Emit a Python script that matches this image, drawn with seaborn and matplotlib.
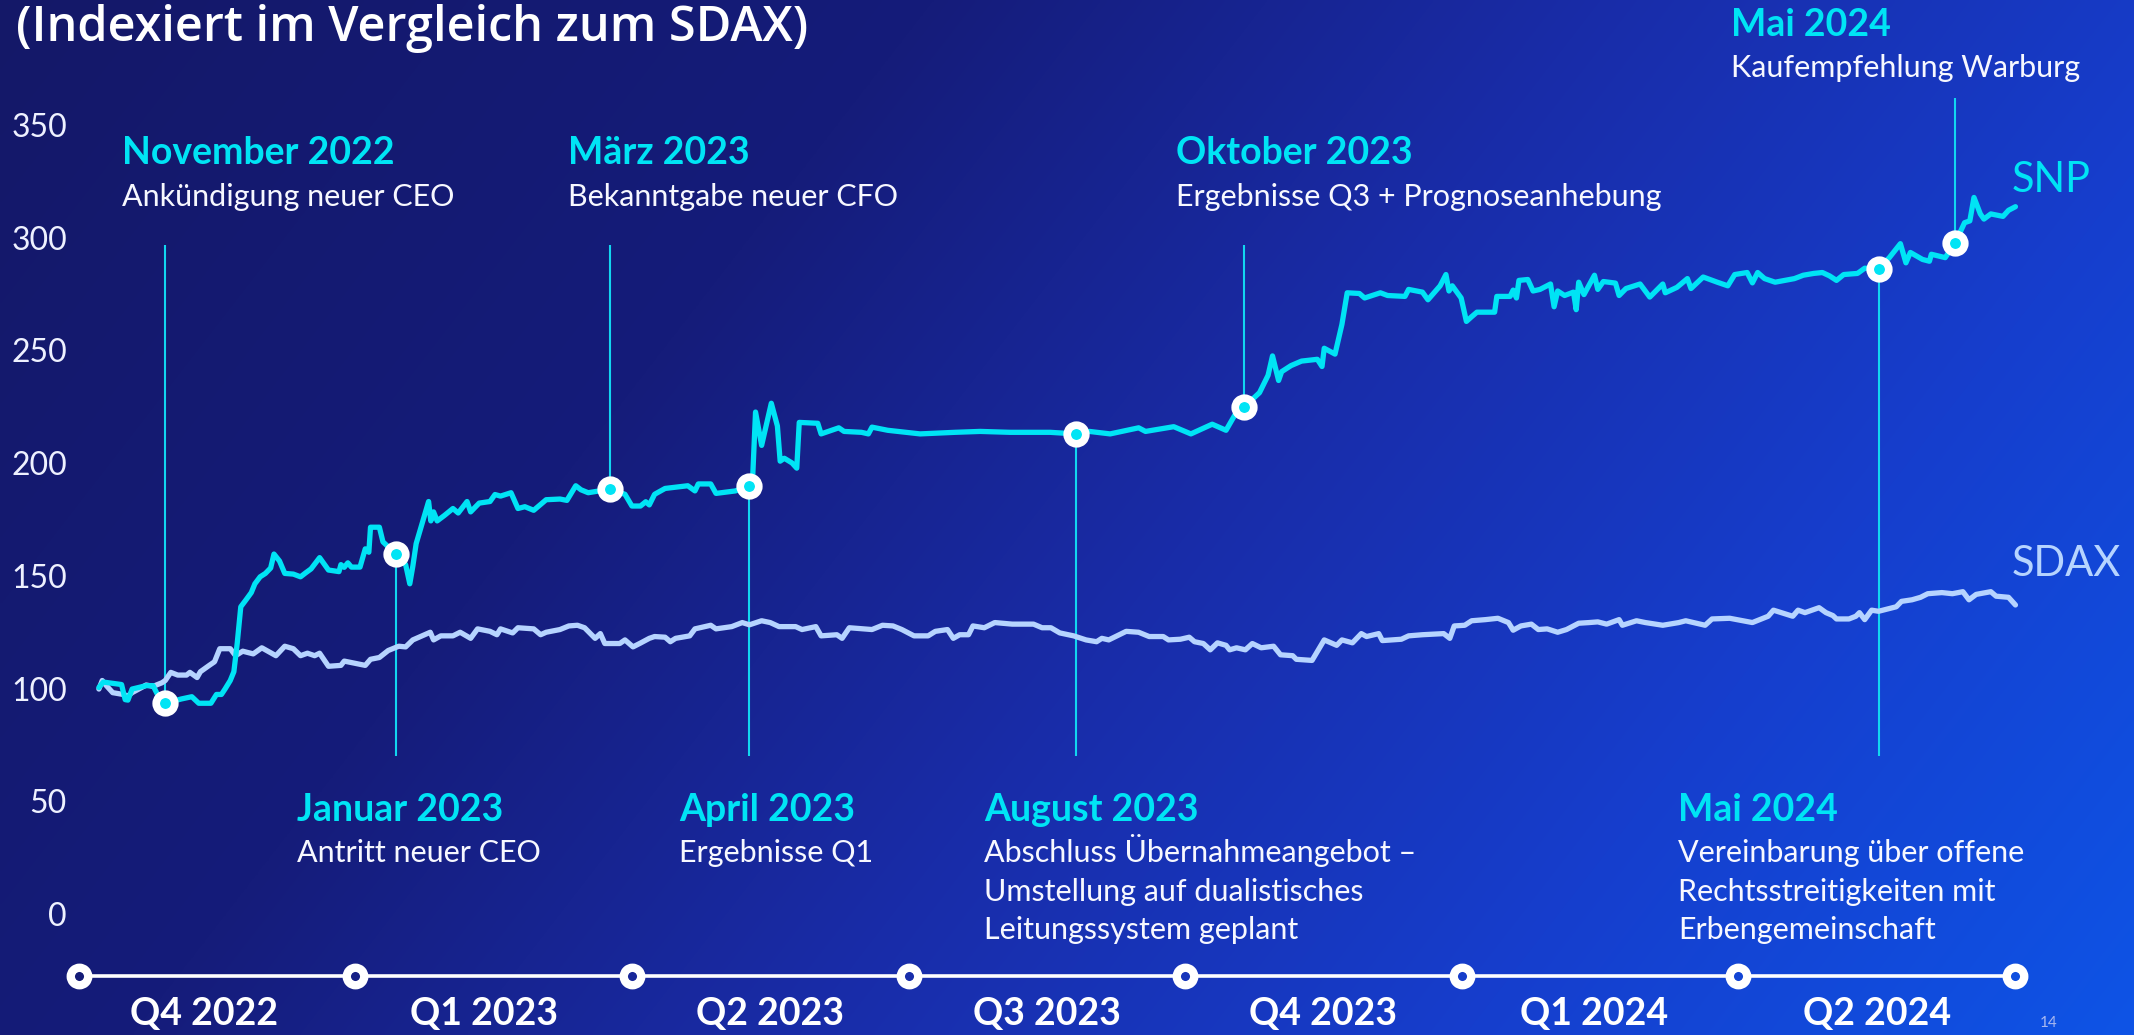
import numpy as np
import pandas as pd
import matplotlib
matplotlib.use("Agg")
import matplotlib.pyplot as plt
import seaborn as sns

# ---------------- data ----------------
quarter_labels = ["Q4 2022", "Q1 2023", "Q2 2023", "Q3 2023", "Q4 2023", "Q1 2024", "Q2 2024"]
quarter_marks = [0, 1, 2, 3, 4, 5, 6, 7]
y_ticks = [0, 50, 100, 150, 200, 250, 300, 350]

# time axis in quarters since start of Q4 2022
snp_t = [0.073, 0.089, 0.155, 0.168, 0.178, 0.193, 0.244, 0.269, 0.288, 0.313,
         0.371, 0.409, 0.434, 0.478, 0.498, 0.516, 0.529, 0.548, 0.561, 0.573,
         0.586, 0.605, 0.624, 0.637, 0.656, 0.675, 0.694, 0.706, 0.726, 0.745,
         0.776, 0.802, 0.821, 0.840, 0.871, 0.903, 0.941, 0.948, 0.960, 0.973,
         0.986, 1.017, 1.036, 1.049, 1.055, 1.087, 1.100, 1.147, 1.182, 1.197,
         1.208, 1.220, 1.265, 1.273, 1.283, 1.296, 1.322, 1.353, 1.372, 1.404,
         1.417, 1.448, 1.487, 1.505, 1.525, 1.563, 1.588, 1.613, 1.645, 1.690,
         1.740, 1.765, 1.797, 1.816, 1.842, 1.922, 1.975, 2.000, 2.031, 2.050,
         2.063, 2.082, 2.120, 2.202, 2.228, 2.240, 2.285, 2.304, 2.374, 2.425,
         2.437, 2.447, 2.469, 2.504, 2.526, 2.536, 2.551, 2.579, 2.596, 2.605,
         2.672, 2.684, 2.710, 2.748, 2.767, 2.830, 2.855, 2.868, 2.925, 3.042,
         3.168, 3.259, 3.367, 3.512, 3.604, 3.654, 3.729, 3.832, 3.857, 3.959,
         4.021, 4.098, 4.148, 4.186, 4.214, 4.269, 4.300, 4.316, 4.338, 4.349,
         4.383, 4.421, 4.478, 4.495, 4.503, 4.542, 4.567, 4.586, 4.630, 4.649,
         4.706, 4.732, 4.795, 4.808, 4.858, 4.878, 4.922, 4.943, 4.954, 4.966,
         4.998, 5.017, 5.036, 5.055, 5.119, 5.127, 5.175, 5.186, 5.198, 5.207,
         5.239, 5.258, 5.283, 5.321, 5.334, 5.347, 5.372, 5.404, 5.414, 5.423,
         5.442, 5.480, 5.492, 5.512, 5.556, 5.569, 5.594, 5.645, 5.680, 5.727,
         5.736, 5.778, 5.816, 5.829, 5.873, 5.924, 5.962, 5.987, 6.032, 6.051,
         6.070, 6.095, 6.133, 6.203, 6.235, 6.273, 6.304, 6.330, 6.355, 6.381,
         6.431, 6.457, 6.507, 6.546, 6.586, 6.606, 6.622, 6.666, 6.691, 6.698,
         6.748, 6.784, 6.818, 6.837, 6.852, 6.875, 6.888, 6.913, 6.957, 6.977,
         7.002]
snp_v = [100.5, 102.9, 101.8, 95.1, 94.9, 99.8, 101.3, 101.3, 96.6, 93.5,
         95.4, 96.4, 93.5, 93.5, 97.4, 97.4, 99.8, 103.6, 107.5, 120.0,
         136.3, 139.4, 142.6, 146.5, 149.6, 151.1, 153.5, 159.7, 156.6, 151.1,
         150.8, 149.6, 151.4, 153.1, 158.1, 152.6, 151.9, 155.0, 153.8, 155.8,
         153.9, 153.9, 162.0, 160.5, 171.6, 171.6, 165.1, 159.7, 155.0, 146.5,
         154.3, 164.3, 183.0, 174.4, 178.4, 174.4, 176.8, 179.9, 177.9, 183.0,
         178.4, 182.3, 183.0, 186.1, 185.4, 186.9, 179.9, 180.7, 179.1, 183.8,
         184.1, 183.5, 190.0, 188.2, 186.9, 188.5, 186.2, 181.0, 181.0, 182.9,
         181.5, 186.2, 188.8, 190.0, 187.7, 190.8, 190.8, 186.6, 187.7, 190.0,
         194.7, 222.7, 207.9, 226.6, 216.5, 200.9, 202.2, 200.1, 197.8, 218.1,
         217.7, 213.0, 214.1, 215.7, 214.1, 213.7, 213.0, 216.0, 214.6, 213.0,
         213.7, 214.1, 213.7, 213.7, 213.0, 214.1, 213.0, 215.7, 214.1, 216.2,
         213.0, 217.3, 214.6, 222.7, 225.0, 231.3, 239.0, 247.6, 236.7, 240.6,
         243.3, 245.3, 246.1, 242.9, 251.0, 248.4, 261.6, 275.6, 275.3, 273.3,
         275.6, 274.4, 274.0, 277.1, 275.9, 272.5, 278.7, 283.7, 276.4, 278.7,
         273.3, 262.9, 265.0, 267.0, 267.0, 274.0, 274.0, 276.8, 273.3, 281.1,
         281.5, 276.4, 277.1, 279.5, 269.4, 276.4, 274.4, 275.9, 268.1, 280.3,
         274.8, 283.4, 277.1, 280.6, 279.9, 274.4, 277.5, 279.5, 273.7, 279.5,
         275.6, 278.0, 281.9, 277.5, 282.6, 280.3, 278.7, 283.7, 284.6, 280.0,
         284.6, 281.9, 280.3, 281.9, 283.4, 284.2, 284.6, 283.1, 281.1, 283.7,
         284.2, 286.5, 286.2, 291.2, 297.4, 288.9, 293.5, 290.4, 289.6, 292.7,
         291.2, 297.7, 306.7, 307.5, 317.9, 310.6, 308.3, 310.6, 309.5, 312.2,
         313.8]

sdax_t = [0.073, 0.085, 0.098, 0.123, 0.161, 0.178, 0.193, 0.244, 0.269, 0.301,
          0.313, 0.333, 0.358, 0.390, 0.402, 0.428, 0.440, 0.472, 0.491, 0.510,
          0.548, 0.567, 0.593, 0.631, 0.662, 0.713, 0.745, 0.776, 0.802, 0.827,
          0.853, 0.871, 0.903, 0.948, 0.960, 1.036, 1.055, 1.087, 1.119, 1.157,
          1.182, 1.208, 1.271, 1.283, 1.309, 1.353, 1.379, 1.417, 1.442, 1.487,
          1.512, 1.525, 1.569, 1.588, 1.645, 1.670, 1.690, 1.740, 1.772, 1.803,
          1.829, 1.867, 1.886, 1.902, 1.956, 1.975, 2.004, 2.031, 2.063, 2.082,
          2.120, 2.139, 2.158, 2.209, 2.228, 2.285, 2.304, 2.361, 2.399, 2.425,
          2.469, 2.500, 2.532, 2.592, 2.615, 2.665, 2.684, 2.741, 2.760, 2.786,
          2.868, 2.906, 2.944, 2.976, 3.020, 3.071, 3.097, 3.141, 3.162, 3.185,
          3.217, 3.233, 3.274, 3.312, 3.375, 3.452, 3.483, 3.515, 3.547, 3.597,
          3.642, 3.680, 3.699, 3.724, 3.762, 3.787, 3.832, 3.870, 3.921, 3.940,
          3.983, 4.015, 4.034, 4.066, 4.091, 4.117, 4.148, 4.161, 4.186, 4.218,
          4.243, 4.275, 4.320, 4.345, 4.389, 4.402, 4.459, 4.503, 4.548, 4.567,
          4.605, 4.637, 4.656, 4.700, 4.713, 4.782, 4.808, 4.858, 4.935, 4.957,
          4.973, 5.011, 5.036, 5.086, 5.131, 5.169, 5.186, 5.214, 5.252, 5.277,
          5.309, 5.347, 5.379, 5.423, 5.461, 5.492, 5.524, 5.569, 5.581, 5.632,
          5.664, 5.727, 5.785, 5.810, 5.880, 5.905, 5.969, 6.051, 6.108, 6.127,
          6.197, 6.216, 6.241, 6.292, 6.317, 6.342, 6.355, 6.400, 6.425, 6.438,
          6.457, 6.482, 6.507, 6.571, 6.590, 6.628, 6.659, 6.685, 6.736, 6.774,
          6.812, 6.834, 6.860, 6.913, 6.932, 6.977, 7.002]
sdax_v = [99.8, 103.6, 101.6, 98.2, 97.4, 96.7, 98.2, 101.6, 101.0, 102.6,
          103.6, 107.2, 106.0, 106.0, 107.2, 104.9, 107.5, 110.3, 111.9, 117.7,
          117.7, 114.6, 116.6, 115.4, 118.1, 114.6, 118.8, 117.7, 114.6, 115.7,
          114.6, 115.7, 109.9, 110.3, 112.2, 110.3, 113.0, 113.8, 116.9, 118.8,
          118.5, 121.6, 125.0, 121.6, 123.4, 123.4, 125.0, 122.3, 126.5, 125.4,
          123.9, 126.5, 124.7, 127.0, 126.5, 123.9, 125.0, 126.2, 127.8, 128.1,
          127.0, 122.3, 124.4, 120.0, 120.0, 121.6, 118.5, 120.2, 122.3, 123.1,
          122.8, 120.8, 122.3, 123.4, 126.5, 128.1, 126.5, 127.5, 129.3, 128.3,
          130.1, 129.3, 127.5, 127.5, 126.2, 127.5, 123.4, 123.9, 122.3, 127.0,
          126.2, 128.1, 127.8, 126.2, 123.4, 123.4, 125.4, 126.2, 122.3, 123.9,
          123.9, 127.8, 127.0, 129.3, 128.6, 128.6, 127.0, 127.0, 124.7, 123.4,
          121.6, 120.8, 122.3, 121.6, 123.9, 125.4, 125.0, 123.1, 123.1, 121.6,
          121.9, 122.8, 120.8, 120.0, 117.2, 120.3, 119.2, 117.2, 118.1, 117.2,
          120.0, 118.1, 118.8, 115.0, 114.6, 113.0, 112.5, 121.6, 119.2, 121.6,
          120.3, 124.4, 123.1, 124.4, 121.3, 121.9, 123.4, 123.9, 124.4, 122.3,
          127.8, 128.1, 130.1, 130.6, 131.2, 129.3, 125.9, 127.8, 128.6, 126.2,
          126.5, 125.0, 126.2, 129.0, 129.3, 129.6, 128.6, 130.6, 128.1, 130.1,
          129.3, 128.1, 129.3, 130.1, 128.1, 130.9, 131.2, 129.3, 132.1, 134.8,
          132.1, 134.8, 133.7, 135.9, 133.7, 132.4, 130.9, 130.9, 132.1, 133.7,
          130.6, 134.8, 134.3, 136.3, 138.7, 139.4, 140.5, 142.1, 142.6, 142.1,
          143.0, 139.4, 141.8, 143.0, 141.0, 140.5, 137.1]

event_title = ["November 2022", "Januar 2023", "März 2023", "April 2023",
               "August 2023", "Oktober 2023", "Mai 2024", "Mai 2024"]
event_text = [["Ankündigung neuer CEO"],
              ["Antritt neuer CEO"],
              ["Bekanntgabe neuer CFO"],
              ["Ergebnisse Q1"],
              ["Abschluss Übernahmeangebot –", "Umstellung auf dualistisches",
               "Leitungssystem geplant"],
              ["Ergebnisse Q3 + Prognoseanhebung"],
              ["Vereinbarung über offene", "Rechtsstreitigkeiten mit",
               "Erbengemeinschaft"],
              ["Kaufempfehlung Warburg"]]
event_t = [0.313, 1.147, 1.922, 2.425, 3.604, 4.214, 6.507, 6.784]
event_stem_end = [297, 70, 297, 70, 70, 297, 70, 362]

# ---------------- layout (pixels of the 2134x1035 canvas) ----------------
W, H, DPI = 2134, 1035, 100
X0, XS = 78.7, 276.6      # pixel x of quarter 0, pixels per quarter
Y0, YS = 914.0, 2.254     # pixel y of value 0, pixels per unit
text_left = [122.5, 297, 567.5, 679, 984, 1176, 1678, 1731]
title_base = [164.5, 821, 164.5, 821, 821, 164.5, 821, 36]
body_base = [206, 862, 206, 862, 862, 206, 862, 77]
BODY_STEP = 38.5
quarter_label_shift = [-0.045, -0.035, 0, 0, 0, -0.02, 0]

CYAN = "#00E4F5"
STEM = "#12D6F0"
LIGHT = "#B6D4FF"
WHITE = "#F7F8FF"

FONT = ["Lato", "DejaVu Sans"]
sns.set_style("white")
plt.rcParams["font.family"] = FONT


def bg_rgb(xf, yf):
    t = 0.8 * np.asarray(xf) + 0.3 * np.asarray(yf)
    stops = [0.0, 0.35, 0.6, 0.85, 1.1]
    r = np.interp(t, stops, [20, 21, 25, 22, 14])
    g = np.interp(t, stops, [24, 28, 44, 62, 84])
    b = np.interp(t, stops, [104, 122, 168, 205, 230])
    return np.stack([r, g, b], axis=-1) / 255.0


def fx(px):
    return px / W


def fy(py):
    return 1 - py / H


fig = plt.figure(figsize=(W / DPI, H / DPI), dpi=DPI)
fig.patch.set_facecolor("#14186A")
ax = fig.add_axes([0, 0, 1, 1])
xlim = ((0 - X0) / XS, (W - X0) / XS)
ylim = ((Y0 - H) / YS, Y0 / YS)

# background gradient
xx, yy = np.meshgrid(np.linspace(0, 1, 600), np.linspace(0, 1, 300))
ax.imshow(bg_rgb(xx, yy), extent=[xlim[0], xlim[1], ylim[0], ylim[1]],
          origin="upper", aspect="auto", interpolation="bilinear", zorder=0)

# series
df = pd.concat([
    pd.DataFrame({"t": sdax_t, "v": sdax_v, "series": "SDAX"}),
    pd.DataFrame({"t": snp_t, "v": snp_v, "series": "SNP"}),
], ignore_index=True)
sns.lineplot(data=df, x="t", y="v", hue="series", hue_order=["SDAX", "SNP"],
             palette={"SDAX": LIGHT, "SNP": CYAN}, estimator=None, sort=False,
             linewidth=3.8, legend=False, ax=ax, zorder=4,
             solid_joinstyle="round", solid_capstyle="round")

# event stems and markers
marker_v = np.interp(event_t, snp_t, snp_v)
ax.vlines(event_t, marker_v, event_stem_end, color=STEM, lw=1.5, zorder=3)
ax.plot(event_t, marker_v, ls="none", marker="o", ms=13.4, mew=5.5,
        mfc=CYAN, mec="white", zorder=6)

# timeline
tl_v = (Y0 - 976) / YS
ax.plot(quarter_marks, [tl_v] * len(quarter_marks), color="white", lw=2.6,
        zorder=5, clip_on=False, solid_capstyle="butt")
for q in quarter_marks:
    face = bg_rgb((X0 + XS * q) / W, 976 / H)
    ax.plot([q], [tl_v], ls="none", marker="o", ms=12.6, mew=6.0,
            mec="white", mfc=face, zorder=6, clip_on=False)
lab_v = (Y0 - 1025) / YS
for i, lab in enumerate(quarter_labels):
    ax.text(quarter_marks[i] + 0.5 + quarter_label_shift[i], lab_v, lab,
            ha="center", va="baseline", fontsize=27, fontweight="bold",
            color="white", zorder=7)

# axes
ax.set_xlim(*xlim)
ax.set_ylim(*ylim)
ax.set_xticks([])
ax.set_yticks(y_ticks)
ax.set_yticklabels([str(v) for v in y_ticks])
ax.tick_params(axis="y", length=0, pad=-48.2, labelsize=23, labelcolor="#EEF1FF")
ax.set_xlabel("")
ax.set_ylabel("")
ax.grid(False)
for s in ax.spines.values():
    s.set_visible(False)

# annotation texts
for i in range(len(event_title)):
    fig.text(fx(text_left[i]), fy(title_base[i]), event_title[i], ha="left",
             va="baseline", fontsize=27, fontweight="bold", color=CYAN)
    for j, line in enumerate(event_text[i]):
        fig.text(fx(text_left[i]), fy(body_base[i] + j * BODY_STEP), line,
                 ha="left", va="baseline", fontsize=22, fontweight="normal",
                 color=WHITE)

# series labels
fig.text(fx(2012), fy(192), "SNP", ha="left", va="baseline", fontsize=30,
         fontweight="normal", color=CYAN)
fig.text(fx(2012), fy(576), "SDAX", ha="left", va="baseline", fontsize=30,
         fontweight="normal", color=LIGHT)

# title and page number
fig.text(fx(16), fy(41), "(Indexiert im Vergleich zum SDAX)", ha="left",
         va="baseline", fontsize=35, fontweight="semibold", color="white",
         family=["Open Sans", "DejaVu Sans"])
fig.text(fx(2040), fy(1027), "14", ha="left", va="baseline", fontsize=11,
         fontweight="normal", color="#A8B8F0")

fig.savefig("out.png", dpi=DPI)
